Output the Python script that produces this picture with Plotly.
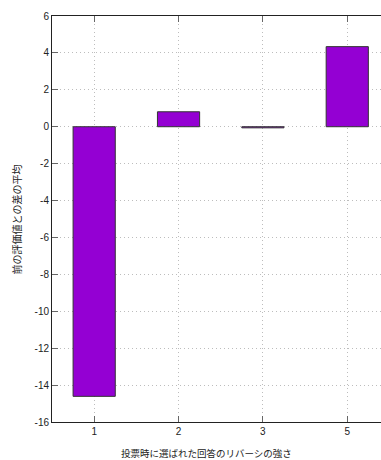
import plotly.graph_objects as go

categories = ["1", "2", "3", "5"]
values = [-14.61, 0.81, -0.06, 4.34]
y_ticks = list(range(-16, 7, 2))

x_title = "投票時に選ばれた回答のリバーシの強さ"
y_title = "前の評価値との差の平均"

fig = go.Figure(go.Bar(
    x=categories, y=values, width=0.5,
    marker=dict(color="#9400D3", line=dict(color="#333333", width=1)),
))

grid = dict(showgrid=True, gridcolor="#bdbdbd", griddash="1px,3px", gridwidth=1)
fig.update_xaxes(
    type="category", range=[-0.5, 3.4], **grid,
    showline=True, linecolor="#222", linewidth=1, mirror="ticks",
    ticks="inside", ticklen=6, tickcolor="#666", tickwidth=1,
    tickfont=dict(family="Liberation Sans", size=10, color="#222"),
    zeroline=False,
)
fig.update_yaxes(
    range=[-16, 6], tickvals=y_ticks, ticktext=[str(v) for v in y_ticks], **grid,
    showline=True, linecolor="#222", linewidth=1,
    ticks="inside", ticklen=6, tickcolor="#666", tickwidth=1,
    tickfont=dict(family="Liberation Sans", size=10, color="#222"),
    zeroline=False,
)
fig.update_layout(
    width=381, height=460,
    margin=dict(l=52, r=0, t=16, b=38),
    plot_bgcolor="white", paper_bgcolor="white",
    showlegend=False,
    annotations=[
        dict(text=x_title, xref="paper", yref="paper", x=0.47, y=-0.077,
             xanchor="center", yanchor="middle", showarrow=False,
             font=dict(family="Noto Sans CJK JP", size=9.5, color="#222")),
        dict(text=y_title, xref="paper", yref="paper", x=-0.108, y=0.5,
             xanchor="center", yanchor="middle", showarrow=False, textangle=-90,
             font=dict(family="Noto Sans CJK JP", size=10, color="#222")),
    ],
)
fig.write_html("out.html")
